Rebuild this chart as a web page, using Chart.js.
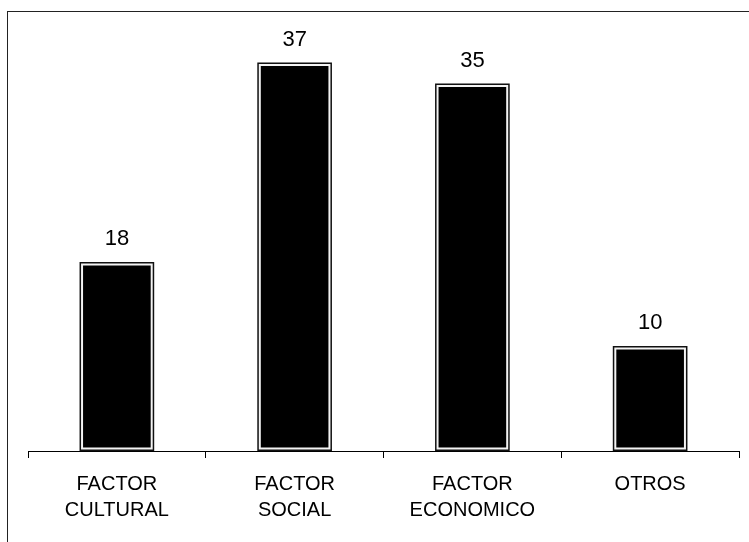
<!DOCTYPE html>
<html>
<head>
<meta charset="utf-8">
<script src="https://cdn.jsdelivr.net/npm/chart.js@4"></script>
<style>
  html, body { margin: 0; padding: 0; background: #fff; overflow: hidden; }
  #wrap { position: relative; width: 749px; height: 542px; }
  #frame { position: absolute; left: 7px; top: 11px; width: 800px; height: 600px; border: 1px solid #222; }
  canvas { position: absolute; left: 0; top: 0; }
</style>
</head>
<body>
<div id="wrap">
  <div id="frame"></div>
  <canvas id="chartFactores" width="749" height="542"></canvas>
</div>
<script>
const categorias = [['FACTOR', 'CULTURAL'], ['FACTOR', 'SOCIAL'], ['FACTOR', 'ECONOMICO'], 'OTROS'];
const valores = [18, 37, 35, 10];

// numbers above bars + dark outline around each bar
const etiquetasBarras = {
    id: 'etiquetasBarras',
    afterDatasetsDraw(chart) {
        const ctx = chart.ctx;
        const meta = chart.getDatasetMeta(0);
        ctx.save();
        meta.data.forEach((bar, i) => {
            const left = bar.x - bar.width / 2;
            ctx.strokeStyle = '#111';
            ctx.lineWidth = 1.5;
            ctx.strokeRect(left + 0.75, bar.y + 0.75, bar.width - 1.5, bar.base - bar.y - 1.5);
            ctx.fillStyle = '#000';
            ctx.font = '22px "Liberation Sans", Arial, sans-serif';
            ctx.textAlign = 'center';
            ctx.textBaseline = 'alphabetic';
            ctx.fillText(valores[i], bar.x, bar.y - 17);
        });
        ctx.restore();
    }
};

const ctxFactores = document.getElementById('chartFactores').getContext('2d');
const chartFactores = new Chart(ctxFactores, {
    type: 'bar',
    data: {
        labels: categorias,
        datasets: [{
            data: valores,
            backgroundColor: '#000',
            borderColor: '#f4f4f4',
            borderWidth: 3.5,
            borderSkipped: false,
            categoryPercentage: 1,
            barPercentage: 0.42
        }]
    },
    options: {
        responsive: false,
        animation: false,
        layout: {
            padding: { left: 28, right: 10, top: 31, bottom: 6 }
        },
        plugins: {
            legend: { display: false },
            tooltip: { enabled: false }
        },
        scales: {
            x: {
                grid: {
                    offset: true,
                    drawOnChartArea: false,
                    drawTicks: true,
                    tickLength: 7,
                    color: '#000'
                },
                border: { color: '#000', width: 1 },
                ticks: {
                    color: '#000',
                    padding: 13,
                    maxRotation: 0,
                    font: { family: '"Liberation Sans", Arial, sans-serif', size: 20, lineHeight: 1.3 }
                }
            },
            y: {
                display: false,
                min: 0,
                max: 40
            }
        }
    },
    plugins: [etiquetasBarras]
});
</script>
</body>
</html>
